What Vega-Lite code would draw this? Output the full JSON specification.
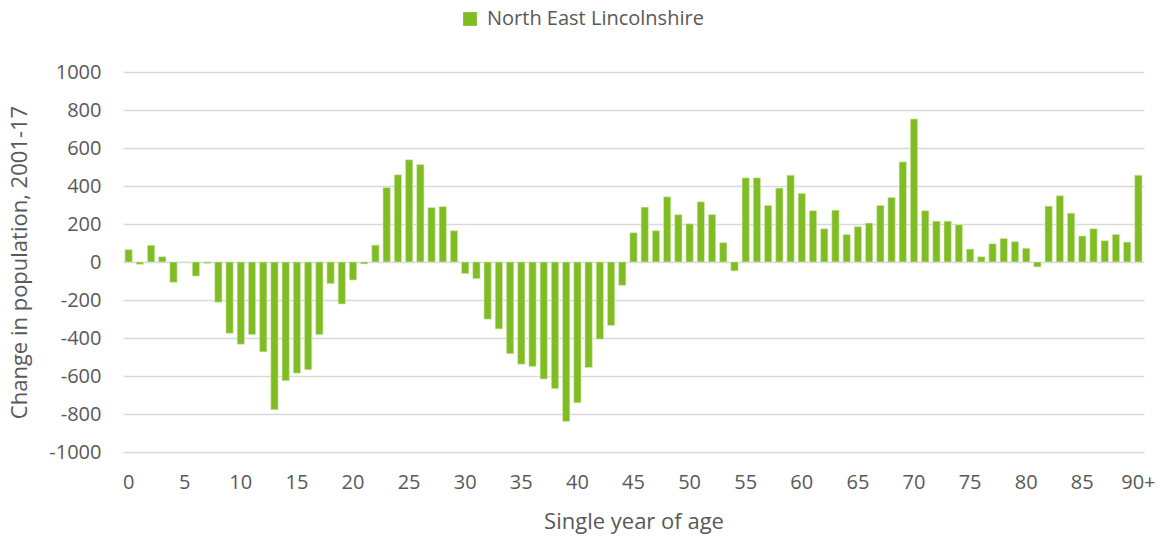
{
  "$schema": "https://vega.github.io/schema/vega-lite/v6.json",
  "width": 1021,
  "height": 380,
  "autosize": {"type": "none"},
  "padding": {"left": 123, "top": 72, "right": 18, "bottom": 86},
  "background": "#ffffff",
  "config": {
    "font": "Open Sans",
    "view": {"stroke": null}
  },
  "data": {
    "values": [
      {"age": "0", "change": 65, "series": "North East Lincolnshire"},
      {"age": "1", "change": -12, "series": "North East Lincolnshire"},
      {"age": "2", "change": 88, "series": "North East Lincolnshire"},
      {"age": "3", "change": 28, "series": "North East Lincolnshire"},
      {"age": "4", "change": -107, "series": "North East Lincolnshire"},
      {"age": "5", "change": 0, "series": "North East Lincolnshire"},
      {"age": "6", "change": -74, "series": "North East Lincolnshire"},
      {"age": "7", "change": -7, "series": "North East Lincolnshire"},
      {"age": "8", "change": -212, "series": "North East Lincolnshire"},
      {"age": "9", "change": -375, "series": "North East Lincolnshire"},
      {"age": "10", "change": -433, "series": "North East Lincolnshire"},
      {"age": "11", "change": -382, "series": "North East Lincolnshire"},
      {"age": "12", "change": -473, "series": "North East Lincolnshire"},
      {"age": "13", "change": -778, "series": "North East Lincolnshire"},
      {"age": "14", "change": -625, "series": "North East Lincolnshire"},
      {"age": "15", "change": -585, "series": "North East Lincolnshire"},
      {"age": "16", "change": -567, "series": "North East Lincolnshire"},
      {"age": "17", "change": -382, "series": "North East Lincolnshire"},
      {"age": "18", "change": -114, "series": "North East Lincolnshire"},
      {"age": "19", "change": -221, "series": "North East Lincolnshire"},
      {"age": "20", "change": -95, "series": "North East Lincolnshire"},
      {"age": "21", "change": -10, "series": "North East Lincolnshire"},
      {"age": "22", "change": 89, "series": "North East Lincolnshire"},
      {"age": "23", "change": 392, "series": "North East Lincolnshire"},
      {"age": "24", "change": 459, "series": "North East Lincolnshire"},
      {"age": "25", "change": 538, "series": "North East Lincolnshire"},
      {"age": "26", "change": 513, "series": "North East Lincolnshire"},
      {"age": "27", "change": 287, "series": "North East Lincolnshire"},
      {"age": "28", "change": 292, "series": "North East Lincolnshire"},
      {"age": "29", "change": 165, "series": "North East Lincolnshire"},
      {"age": "30", "change": -61, "series": "North East Lincolnshire"},
      {"age": "31", "change": -88, "series": "North East Lincolnshire"},
      {"age": "32", "change": -301, "series": "North East Lincolnshire"},
      {"age": "33", "change": -352, "series": "North East Lincolnshire"},
      {"age": "34", "change": -483, "series": "North East Lincolnshire"},
      {"age": "35", "change": -538, "series": "North East Lincolnshire"},
      {"age": "36", "change": -550, "series": "North East Lincolnshire"},
      {"age": "37", "change": -616, "series": "North East Lincolnshire"},
      {"age": "38", "change": -667, "series": "North East Lincolnshire"},
      {"age": "39", "change": -839, "series": "North East Lincolnshire"},
      {"age": "40", "change": -741, "series": "North East Lincolnshire"},
      {"age": "41", "change": -555, "series": "North East Lincolnshire"},
      {"age": "42", "change": -406, "series": "North East Lincolnshire"},
      {"age": "43", "change": -334, "series": "North East Lincolnshire"},
      {"age": "44", "change": -123, "series": "North East Lincolnshire"},
      {"age": "45", "change": 154, "series": "North East Lincolnshire"},
      {"age": "46", "change": 289, "series": "North East Lincolnshire"},
      {"age": "47", "change": 165, "series": "North East Lincolnshire"},
      {"age": "48", "change": 343, "series": "North East Lincolnshire"},
      {"age": "49", "change": 249, "series": "North East Lincolnshire"},
      {"age": "50", "change": 201, "series": "North East Lincolnshire"},
      {"age": "51", "change": 317, "series": "North East Lincolnshire"},
      {"age": "52", "change": 250, "series": "North East Lincolnshire"},
      {"age": "53", "change": 102, "series": "North East Lincolnshire"},
      {"age": "54", "change": -47, "series": "North East Lincolnshire"},
      {"age": "55", "change": 443, "series": "North East Lincolnshire"},
      {"age": "56", "change": 443, "series": "North East Lincolnshire"},
      {"age": "57", "change": 298, "series": "North East Lincolnshire"},
      {"age": "58", "change": 389, "series": "North East Lincolnshire"},
      {"age": "59", "change": 457, "series": "North East Lincolnshire"},
      {"age": "60", "change": 361, "series": "North East Lincolnshire"},
      {"age": "61", "change": 270, "series": "North East Lincolnshire"},
      {"age": "62", "change": 175, "series": "North East Lincolnshire"},
      {"age": "63", "change": 273, "series": "North East Lincolnshire"},
      {"age": "64", "change": 145, "series": "North East Lincolnshire"},
      {"age": "65", "change": 186, "series": "North East Lincolnshire"},
      {"age": "66", "change": 205, "series": "North East Lincolnshire"},
      {"age": "67", "change": 298, "series": "North East Lincolnshire"},
      {"age": "68", "change": 340, "series": "North East Lincolnshire"},
      {"age": "69", "change": 527, "series": "North East Lincolnshire"},
      {"age": "70", "change": 753, "series": "North East Lincolnshire"},
      {"age": "71", "change": 270, "series": "North East Lincolnshire"},
      {"age": "72", "change": 215, "series": "North East Lincolnshire"},
      {"age": "73", "change": 215, "series": "North East Lincolnshire"},
      {"age": "74", "change": 196, "series": "North East Lincolnshire"},
      {"age": "75", "change": 68, "series": "North East Lincolnshire"},
      {"age": "76", "change": 28, "series": "North East Lincolnshire"},
      {"age": "77", "change": 96, "series": "North East Lincolnshire"},
      {"age": "78", "change": 124, "series": "North East Lincolnshire"},
      {"age": "79", "change": 107, "series": "North East Lincolnshire"},
      {"age": "80", "change": 72, "series": "North East Lincolnshire"},
      {"age": "81", "change": -26, "series": "North East Lincolnshire"},
      {"age": "82", "change": 294, "series": "North East Lincolnshire"},
      {"age": "83", "change": 349, "series": "North East Lincolnshire"},
      {"age": "84", "change": 257, "series": "North East Lincolnshire"},
      {"age": "85", "change": 137, "series": "North East Lincolnshire"},
      {"age": "86", "change": 175, "series": "North East Lincolnshire"},
      {"age": "87", "change": 112, "series": "North East Lincolnshire"},
      {"age": "88", "change": 145, "series": "North East Lincolnshire"},
      {"age": "89", "change": 105, "series": "North East Lincolnshire"},
      {"age": "90+", "change": 457, "series": "North East Lincolnshire"}
    ]
  },
  "mark": {"type": "bar", "stroke": "#d8ecb8", "strokeWidth": 0.6},
  "encoding": {
    "x": {
      "field": "age",
      "type": "ordinal",
      "sort": null,
      "scale": {"paddingInner": 0.35, "paddingOuter": 0.175},
      "axis": {
        "title": "Single year of age",
        "titleFont": "Open Sans",
        "titleFontSize": 22,
        "titleFontWeight": "normal",
        "titleColor": "#595959",
        "titlePadding": 19,
        "labelAngle": 0,
        "labelFont": "Open Sans",
        "labelFontSize": 20,
        "labelColor": "#595959",
        "labelPadding": 20,
        "labelExpr": "datum.value == '90+' || toNumber(datum.value) % 5 == 0 ? datum.value : ''",
        "ticks": false,
        "domain": false,
        "grid": false
      }
    },
    "y": {
      "field": "change",
      "type": "quantitative",
      "scale": {"domain": [-1000, 1000], "nice": false},
      "axis": {
        "title": "Change in population, 2001-17",
        "titleFont": "Open Sans",
        "titleFontSize": 22,
        "titleFontWeight": "normal",
        "titleColor": "#595959",
        "titlePadding": 17,
        "values": [-1000, -800, -600, -400, -200, 0, 200, 400, 600, 800, 1000],
        "labelExpr": "'' + datum.value",
        "labelFont": "Open Sans",
        "labelFontSize": 20,
        "labelColor": "#595959",
        "labelPadding": 22,
        "ticks": false,
        "domain": false,
        "grid": true,
        "gridColor": "#d9d9d9",
        "gridWidth": 1.3
      }
    },
    "color": {
      "field": "series",
      "type": "nominal",
      "scale": {"range": ["#80bc24"]},
      "legend": {
        "title": null,
        "orient": "none",
        "legendX": 337,
        "legendY": -63,
        "direction": "horizontal",
        "symbolType": "square",
        "symbolSize": 190,
        "symbolStrokeWidth": 0,
        "labelFont": "Open Sans",
        "labelFontSize": 20,
        "labelLimit": 400,
        "labelColor": "#595959",
        "labelOffset": 7
      }
    }
  }
}
